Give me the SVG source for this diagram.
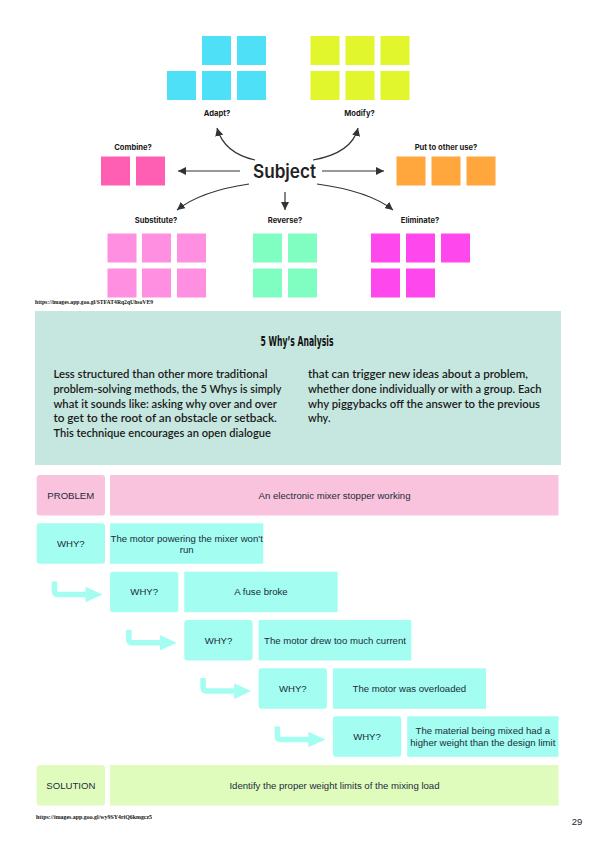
<svg xmlns="http://www.w3.org/2000/svg" width="595" height="842" viewBox="0 0 595 842">
<defs>
<style>
.lbl{font-family:Inter,"Liberation Sans",Arial,sans-serif;font-weight:700;font-size:7.6px;fill:#1a1a1a;text-anchor:middle}
.sub{font-family:Inter,"Liberation Sans",Arial,sans-serif;font-weight:600;font-size:18.5px;fill:#222;text-anchor:middle}
.arr{fill:none;stroke:#333;stroke-width:1.2}
.url{font-family:"Liberation Serif",serif;font-weight:bold;font-size:5.5px;fill:#111}
.ttl{font-family:"DejaVu Sans Condensed","DejaVu Sans",sans-serif;font-weight:bold;font-size:14.5px;fill:#111;text-anchor:middle}
.body{font-family:Lato,"Noto Sans",sans-serif;font-weight:600;font-size:11.8px;fill:#1a1a1a}
.t{font-family:"Liberation Sans",Arial,sans-serif;font-size:9.6px;fill:#1c2b3a;text-anchor:middle}
.pk{fill:#f9c3de}.cy{fill:#a3fdf1}.gr{fill:#e0fcbd}
.c1{fill:#4ee0f7}.c2{fill:#e1f62c}.c3{fill:#ff5fb2}.c4{fill:#ffa63c}.c5{fill:#ff8fe0}.c6{fill:#80fec2}.c7{fill:#ff47ee}
.flow{fill:none;stroke:#a3fdf1;stroke-width:5.5}
</style>
<marker id="ah" viewBox="0 0 10 10" refX="10" refY="5" markerWidth="8" markerHeight="8" markerUnits="userSpaceOnUse" orient="auto">
<path d="M0,0 L10,5 L0,10 Z" fill="#333"/>
</marker>
</defs>
<rect width="595" height="842" fill="#fff"/>

<g id="adapt">
<rect class="c1" x="202" y="36" width="29" height="29"/><rect class="c1" x="237" y="36" width="29" height="29"/>
<rect class="c1" x="167" y="71" width="29" height="29"/><rect class="c1" x="202" y="71" width="29" height="29"/><rect class="c1" x="237" y="71" width="29" height="29"/>
<text class="lbl" x="217" y="116">Adapt?</text>
</g>
<g id="modify">
<rect class="c2" x="310.5" y="36" width="29" height="29"/><rect class="c2" x="345.5" y="36" width="29" height="29"/><rect class="c2" x="380.5" y="36" width="29" height="29"/>
<rect class="c2" x="310.5" y="71" width="29" height="29"/><rect class="c2" x="345.5" y="71" width="29" height="29"/><rect class="c2" x="380.5" y="71" width="29" height="29"/>
<text class="lbl" x="359.5" y="116">Modify?</text>
</g>
<g id="combine">
<text class="lbl" x="133" y="149.5">Combine?</text>
<rect class="c3" x="101" y="156.5" width="29" height="29"/><rect class="c3" x="136" y="156.5" width="29" height="29"/>
</g>
<g id="put">
<text class="lbl" x="446" y="149.5">Put to other use?</text>
<rect class="c4" x="396.5" y="156.5" width="29" height="29"/><rect class="c4" x="431.5" y="156.5" width="29" height="29"/><rect class="c4" x="466.5" y="156.5" width="29" height="29"/>
</g>
<g id="subject">
<text class="sub" x="284.5" y="177.5" textLength="63" lengthAdjust="spacingAndGlyphs">Subject</text>
</g>
<g id="substitute">
<text class="lbl" x="156" y="223">Substitute?</text>
<rect class="c5" x="107.5" y="233.5" width="29" height="29"/><rect class="c5" x="142" y="233.5" width="29" height="29"/><rect class="c5" x="177" y="233.5" width="29" height="29"/>
<rect class="c5" x="107.5" y="268.5" width="29" height="29"/><rect class="c5" x="142" y="268.5" width="29" height="29"/><rect class="c5" x="177" y="268.5" width="29" height="29"/>
</g>
<g id="reverse">
<text class="lbl" x="285" y="223">Reverse?</text>
<rect class="c6" x="253" y="233.5" width="29" height="29"/><rect class="c6" x="288" y="233.5" width="29" height="29"/>
<rect class="c6" x="253" y="268.5" width="29" height="29"/><rect class="c6" x="288" y="268.5" width="29" height="29"/>
</g>
<g id="eliminate">
<text class="lbl" x="420" y="223">Eliminate?</text>
<rect class="c7" x="371" y="233.5" width="29" height="29"/><rect class="c7" x="406" y="233.5" width="29" height="29"/><rect class="c7" x="441" y="233.5" width="29" height="29"/>
<rect class="c7" x="371" y="268.5" width="29" height="29"/><rect class="c7" x="406" y="268.5" width="29" height="29"/>
</g>

<g id="connectors">
<path class="arr" marker-end="url(#ah)" d="M255,160 Q224,153 217,128"/>
<path class="arr" marker-end="url(#ah)" d="M313,160 Q352,153 358,128"/>
<path class="arr" marker-end="url(#ah)" d="M240,171 L178,171"/>
<path class="arr" marker-end="url(#ah)" d="M322,171 L384,171"/>
<path class="arr" marker-end="url(#ah)" d="M249,184 Q201,191 177,210"/>
<path class="arr" marker-end="url(#ah)" d="M285,192 L285,210"/>
<path class="arr" marker-end="url(#ah)" d="M317,184 Q369,191 393,210"/>
</g>

<text class="url" x="35" y="303.5" textLength="118" lengthAdjust="spacingAndGlyphs">https://images.app.goo.gl/STFAT4Rq2qUhsoVE9</text>

<g id="intro">
<rect x="35" y="311" width="526" height="154" fill="#c6e7df"/>
<text class="ttl" x="297" y="346" textLength="73" lengthAdjust="spacingAndGlyphs">5 Why’s Analysis</text>
<text class="body" x="53.4" y="378" textLength="214" lengthAdjust="spacingAndGlyphs">Less structured than other more traditional</text>
<text class="body" x="53.4" y="393" textLength="228" lengthAdjust="spacingAndGlyphs">problem-solving methods, the 5 Whys is simply</text>
<text class="body" x="53.4" y="407.5" textLength="223.5" lengthAdjust="spacingAndGlyphs">what it sounds like: asking why over and over</text>
<text class="body" x="53.4" y="422" textLength="223.5" lengthAdjust="spacingAndGlyphs">to get to the root of an obstacle or setback.</text>
<text class="body" x="53.4" y="437" textLength="217.5" lengthAdjust="spacingAndGlyphs">This technique encourages an open dialogue</text>
<text class="body" x="308" y="378" textLength="220" lengthAdjust="spacingAndGlyphs">that can trigger new ideas about a problem,</text>
<text class="body" x="308" y="393" textLength="233.5" lengthAdjust="spacingAndGlyphs">whether done individually or with a group. Each</text>
<text class="body" x="308" y="407.5" textLength="232" lengthAdjust="spacingAndGlyphs">why piggybacks off the answer to the previous</text>
<text class="body" x="308" y="422" textLength="22.5" lengthAdjust="spacingAndGlyphs">why.</text>
</g>

<g id="problem">
<rect class="pk" x="36.7" y="475" width="68.3" height="40.5" rx="3"/>
<text class="t" x="70.8" y="498.7">PROBLEM</text>
<rect class="pk" x="110" y="475" width="448.5" height="40.5"/>
<text class="t" x="334.5" y="498.7">An electronic mixer stopper working</text>
</g>
<g id="why1">
<rect class="cy" x="36.7" y="523.3" width="68.3" height="40.5" rx="3"/>
<text class="t" x="70.8" y="547">WHY?</text>
<rect class="cy" x="110" y="523.3" width="153.3" height="40.5"/>
<text class="t" x="186.7" y="541.5">The motor powering the mixer won't</text>
<text class="t" x="186.7" y="552.7">run</text>
</g>
<g id="why2">
<rect class="cy" x="110" y="571.7" width="68.3" height="40.5" rx="3"/>
<text class="t" x="144.2" y="595.3">WHY?</text>
<rect class="cy" x="184.3" y="571.7" width="153.3" height="40.5"/>
<text class="t" x="261" y="595.3">A fuse broke</text>
</g>
<g id="why3">
<rect class="cy" x="184.3" y="620" width="68.3" height="40.5" rx="3"/>
<text class="t" x="218.5" y="643.6">WHY?</text>
<rect class="cy" x="258.6" y="620" width="152.7" height="40.5"/>
<text class="t" x="335" y="643.6">The motor drew too much current</text>
</g>
<g id="why4">
<rect class="cy" x="258.6" y="668.3" width="68.3" height="40.5" rx="3"/>
<text class="t" x="292.8" y="692">WHY?</text>
<rect class="cy" x="332.9" y="668.3" width="153.1" height="40.5"/>
<text class="t" x="409.4" y="692">The motor was overloaded</text>
</g>
<g id="why5">
<rect class="cy" x="332.9" y="716.3" width="68.3" height="40.5" rx="3"/>
<text class="t" x="367" y="740">WHY?</text>
<rect class="cy" x="407.2" y="716.3" width="151.3" height="40.5"/>
<text class="t" x="482.8" y="734.3">The material being mixed had a</text>
<text class="t" x="482.8" y="746">higher weight than the design limit</text>
</g>
<g id="solution">
<rect class="gr" x="36.7" y="765" width="68.3" height="40.5" rx="3"/>
<text class="t" x="70.8" y="788.7">SOLUTION</text>
<rect class="gr" x="110" y="765" width="448.5" height="40.5"/>
<text class="t" x="334.5" y="788.7">Identify the proper weight limits of the mixing load</text>
</g>

<g id="flow-connectors">
<path class="flow" d="M54.5,581.5 V591 Q54.5,594.5 58,594.5 H86"/>
<polygon class="cy" points="85.5,586.7 102.5,594.5 85.5,602.3"/>
<path class="flow" d="M128.8,629.8 V639.3 Q128.8,642.8 132.3,642.8 H160.3"/>
<polygon class="cy" points="159.8,635 176.8,642.8 159.8,650.6"/>
<path class="flow" d="M203.1,678.1 V687.6 Q203.1,691.1 206.6,691.1 H234.6"/>
<polygon class="cy" points="234.1,683.3 251.1,691.1 234.1,698.9"/>
<path class="flow" d="M277.4,726.4 V736 Q277.4,739.5 280.9,739.5 H308.9"/>
<polygon class="cy" points="308.4,731.7 325.4,739.5 308.4,747.3"/>
</g>

<text class="url" x="36" y="819" textLength="116" lengthAdjust="spacingAndGlyphs">https://images.app.goo.gl/wy9SY4riQ6kmgcz5</text>
<text x="577" y="825" font-family="'Liberation Sans',Arial,sans-serif" font-size="9.5" fill="#222" text-anchor="middle">29</text>
</svg>
